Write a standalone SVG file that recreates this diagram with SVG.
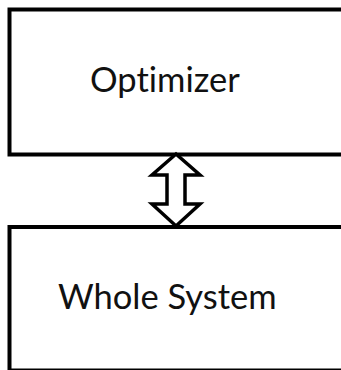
<svg xmlns="http://www.w3.org/2000/svg" width="341" height="370" viewBox="0 0 341 370">
<style>
.box{fill:#fff;stroke:#000;stroke-width:4}
.lbl{font-family:Lato,"Open Sans",sans-serif;font-size:34.5px;fill:#111;font-variant-ligatures:none;font-feature-settings:"liga" 0,"dlig" 0}
.conn{fill:#fff;stroke:#000;stroke-width:3.5;stroke-linejoin:miter}
</style>
<rect width="341" height="370" fill="#fff"/>
<g id="optimizer">
<rect class="box" x="9.5" y="9.5" width="336" height="145"/>
<text class="lbl" x="90" y="92">Optimizer</text>
</g>
<g id="whole-system">
<rect class="box" x="9.5" y="227" width="336" height="143.5"/>
<text class="lbl" x="58" y="309">Whole System</text>
</g>
<g id="connectors">
<path class="conn" d="M176,154 L200,175 L185,175 L185,204 L200,204 L176,226 L152,204 L167,204 L167,175 L152,175 Z"/>
</g>
</svg>
